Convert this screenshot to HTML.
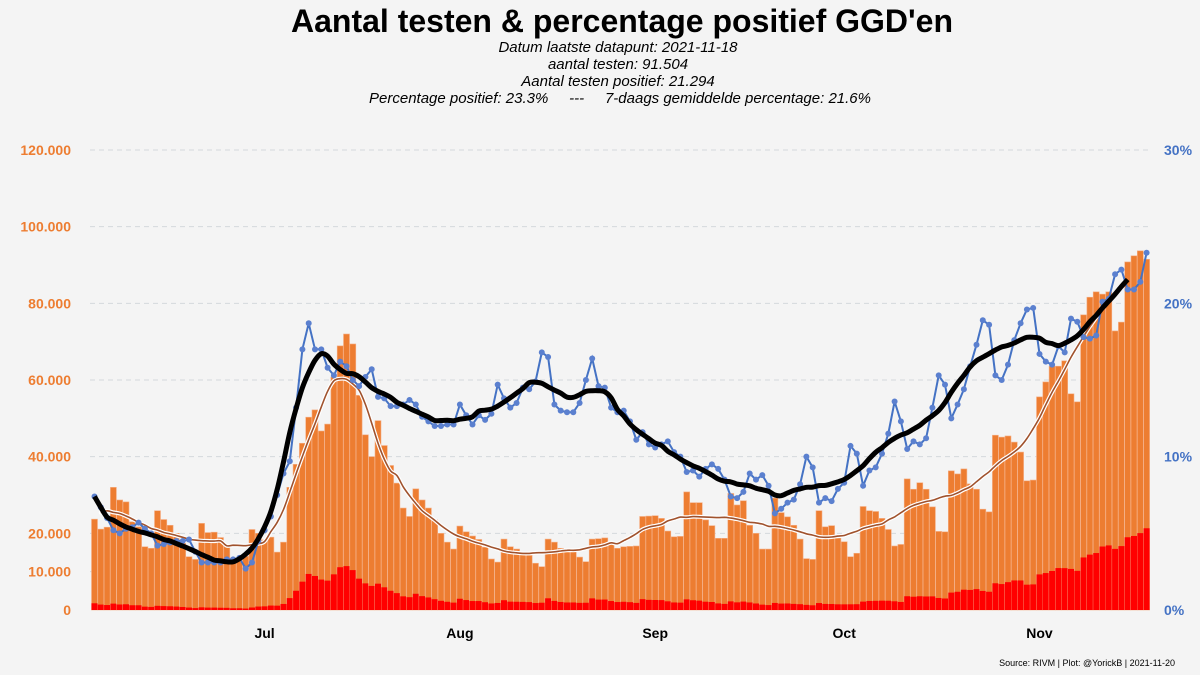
<!DOCTYPE html>
<html><head><meta charset="utf-8"><style>
html,body{margin:0;padding:0;background:#f4f4f4;}
svg{display:block;font-family:"Liberation Sans",sans-serif;}
</style></head><body>
<svg id="chart" width="1200" height="675" viewBox="0 0 1200 675">
<rect width="1200" height="675" fill="#f4f4f4"/>
<text x="622" y="32" text-anchor="middle" font-size="32" font-weight="bold" fill="#000">Aantal testen &amp; percentage positief GGD'en</text>
<g font-size="15" font-style="italic" text-anchor="middle" fill="#000">
<text x="618" y="52">Datum laatste datapunt: 2021-11-18</text>
<text x="618" y="69">aantal testen: 91.504</text>
<text x="618" y="86">Aantal testen positief: 21.294</text>
<text x="620" y="103" style="white-space:pre">Percentage positief: 23.3%     ---     7-daags gemiddelde percentage: 21.6%</text>
</g>
<g id="grid"></g>
<g id="bars"></g>
<g id="lines"></g>
<g id="axes"></g>
<text x="1175" y="666" text-anchor="end" font-size="9" fill="#000">Source: RIVM | Plot: @YorickB |  2021-11-20</text>
</svg>
<script>
const testsK = [23.7,21.1,21.6,32.0,28.7,28.2,23.0,21.7,16.5,16.1,25.9,23.6,22.1,20.0,17.4,13.9,13.2,22.6,20.2,20.3,18.9,17.1,13.5,13.5,14.0,21.0,20.0,18.3,19.0,15.1,17.7,32.0,38.0,43.5,50.3,52.2,46.7,48.5,60.8,68.9,72.0,69.4,56.0,
45.7,40.0,49.4,42.9,37.7,33.1,26.6,24.4,31.6,28.7,26.6,23.5,20.0,17.7,15.9,21.9,20.4,19.3,18.4,16.4,13.3,12.5,18.5,16.5,15.9,14.6,14.3,12.2,11.3,18.5,17.7,16.1,15.2,15.2,13.8,12.6,18.5,18.6,18.8,17.7,16.1,16.5,16.6,
16.7,24.4,24.5,24.6,23.9,20.6,19.1,19.2,30.8,28.0,28.0,23.5,22.0,18.7,18.7,30.4,27.4,28.5,22.1,20.0,15.9,15.9,29.2,25.4,24.3,22.1,18.5,13.4,13.2,25.9,21.7,22.0,18.8,17.8,13.9,14.8,27.0,25.9,25.7,23.9,21.0,16.7,17.1,34.2,
31.5,33.2,31.5,26.9,20.5,20.4,36.3,35.5,36.8,32.9,31.5,26.3,25.6,45.6,45.1,45.4,43.8,41.2,33.7,33.9,55.6,59.5,63.6,63.6,65.0,56.4,54.3,77.0,81.6,83.0,82.4,83.0,72.8,75.1,90.8,92.4,93.7,91.5];
const pctPos = [7.4,6.7,6.0,5.2,5.0,5.3,5.4,5.7,5.3,5.0,4.2,4.3,4.4,4.5,4.5,4.6,3.8,3.1,3.1,3.1,3.1,3.3,3.3,3.4,2.7,3.1,4.5,5.2,6.1,7.5,8.9,9.7,13.2,17.0,18.7,17.0,17.0,15.8,15.3,16.2,15.9,15.0,14.6,
15.2,15.7,13.9,13.8,13.3,13.3,13.4,13.7,13.4,12.6,12.3,12.0,12.0,12.1,12.1,13.4,12.7,12.1,12.7,12.4,12.8,14.7,13.8,13.2,13.5,14.5,14.4,14.9,16.8,16.5,13.4,13.0,12.9,12.9,13.5,15.0,16.4,14.6,14.5,13.2,12.9,13.0,12.3,
11.1,11.6,10.8,10.6,10.8,11.0,10.3,10.0,9.0,9.1,8.7,9.2,9.5,9.2,8.5,7.4,7.3,7.7,8.9,8.5,8.8,8.1,6.3,6.6,7.0,7.2,8.2,10.0,9.3,7.0,7.3,7.1,7.9,8.3,10.7,10.2,8.1,9.1,9.3,10.2,11.5,13.6,12.3,10.5,
11.0,10.8,11.2,13.2,15.3,14.7,12.5,13.4,14.4,15.9,17.3,18.9,18.6,15.3,15.0,16.0,17.6,18.7,19.6,19.7,16.7,16.2,16.0,17.2,16.8,19.0,18.8,17.8,17.7,17.9,20.1,20.3,21.9,22.2,20.9,20.9,21.4,23.3];
const leftTicks = [0,10000,20000,40000,60000,80000,100000,120000];
const leftTickLabels = ["0","10.000","20.000","40.000","60.000","80.000","100.000","120.000"];
const rightTicks = [0,10,20,30];
const rightTickLabels = ["0%","10%","20%","30%"];
const monthIdx = [27,58,89,119,150];
const monthLabels = ["Jul","Aug","Sep","Oct","Nov"];

const NS="http://www.w3.org/2000/svg";
const X0=94.5, DX=6.3, Y0=610;
function x(i){return X0+DX*i;}
function yL(v){return Y0 - v/1000*3.8333;}
function yR(p){return Y0 - p*15.333;}
function mk(tag,attrs,parent){const e=document.createElementNS(NS,tag);for(const k in attrs)e.setAttribute(k,attrs[k]);parent.appendChild(e);return e;}
const grid=document.getElementById('grid'),bars=document.getElementById('bars'),lines=document.getElementById('lines'),axes=document.getElementById('axes');

leftTicks.forEach((t,k)=>{
  if(t>0){const g=mk('line',{x1:90,x2:1148,y1:yL(t),y2:yL(t),stroke:'#d3d8dc','stroke-width':1,'stroke-dasharray':'5,4'},grid);
  
  }
  const tx=mk('text',{x:71,y:yL(t)+5,'text-anchor':'end','font-size':14,'font-weight':'bold',fill:'#ED7D31'},axes);
  tx.textContent=leftTickLabels[k];
  
  
});
rightTicks.forEach((t,k)=>{
  const tx=mk('text',{x:1164,y:yR(t)+5,'font-size':14,'font-weight':'bold',fill:'#4472C4'},axes);
  tx.textContent=rightTickLabels[k];
  
  
});
monthIdx.forEach((m,k)=>{
  const tx=mk('text',{x:x(m),y:638,'text-anchor':'middle','font-size':14,'font-weight':'bold',fill:'#000'},axes);
  tx.textContent=monthLabels[k];
  
  
});

testsK.forEach((v,i)=>{
  const t=v*1000, pos=t*pctPos[i]/100;
  const b=mk('rect',{x:x(i)-3,y:yL(t),width:6,height:Y0-yL(t),fill:'#ED7D31',stroke:'#F5B088','stroke-width':0.6},bars);
  
  
  const r=mk('rect',{x:x(i)-3,y:yL(pos),width:6,height:Y0-yL(pos),fill:'#FF0000'},bars);
  
  
});

function cma(arr,i){const h=Math.min(3,i,arr.length-1-i);let s=0;for(let j=i-h;j<=i+h;j++)s+=arr[j];return s/(2*h+1);}
function cmaFull(arr,i){let s=0,n=0;for(let j=i-3;j<=i+3;j++){if(j>=0&&j<arr.length){s+=arr[j];n++;}}return s/n;}
function smoothPath(pts){let d='M'+pts[0][0]+','+pts[0][1];for(let k=1;k<pts.length;k++){const p0=pts[k-2]||pts[k-1],p1=pts[k-1],p2=pts[k],p3=pts[k+1]||p2;
 const c1=[p1[0]+(p2[0]-p0[0])/6,p1[1]+(p2[1]-p0[1])/6],c2=[p2[0]-(p3[0]-p1[0])/6,p2[1]-(p3[1]-p1[1])/6];
 d+=' C'+c1[0].toFixed(1)+','+c1[1].toFixed(1)+' '+c2[0].toFixed(1)+','+c2[1].toFixed(1)+' '+p2[0].toFixed(1)+','+p2[1].toFixed(1);}return d;}

// brown smoothed tests
const bp=[];for(let i=1;i<=Math.min(160,testsK.length-1);i++)bp.push([x(i),yL(cmaFull(testsK,i)*1000)]);
const bd=smoothPath(bp);
const bh=mk('path',{d:bd,fill:'none',stroke:'#fff','stroke-width':4,'stroke-linecap':'round'},lines);


const bl=mk('path',{d:bd,fill:'none',stroke:'#A0522D','stroke-width':1.6},lines);



// blue pct line
const pp=pctPos.map((p,i)=>x(i).toFixed(1)+','+yR(p).toFixed(1)).join(' ');
const pl=mk('polyline',{points:pp,fill:'none',stroke:'#4472C4','stroke-width':2},lines);


pctPos.forEach((p,i)=>{
  const c=mk('circle',{cx:x(i),cy:yR(p),r:3,fill:'#5B80CF'},lines);
  
  
});

// black 7-day avg
const kp=[];for(let i=0;i<=Math.min(164,pctPos.length-1);i++)kp.push([x(i),yR(cma(pctPos,i))]);
const kl=mk('path',{d:smoothPath(kp),fill:'none',stroke:'#000','stroke-width':5,'stroke-linejoin':'round'},lines);


</script>
</body></html>
